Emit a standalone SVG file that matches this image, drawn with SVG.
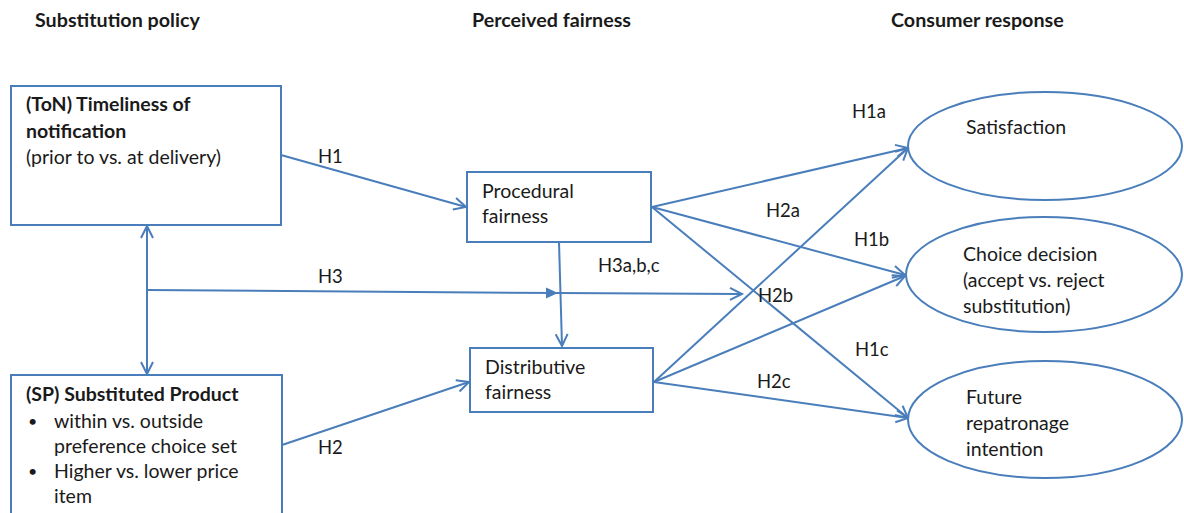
<svg xmlns="http://www.w3.org/2000/svg" width="1184" height="513" viewBox="0 0 1184 513">
<defs>
<style>
text{font-family:Lato,"Liberation Sans",sans-serif;font-size:19.5px;fill:#1a1a1a}
.b{font-weight:bold}
.h{font-weight:bold;font-size:19.7px}
.box{fill:#fff;stroke:#4a7ebb;stroke-width:2}
.ln{fill:none;stroke:#4a7ebb;stroke-width:2}
.lbl{font-size:18.5px}
.bul{font-size:16px}
</style>
<marker id="open" markerUnits="userSpaceOnUse" markerWidth="16" markerHeight="16" refX="13" refY="7" orient="auto">
<path d="M1,1 L13,7 L1,13" fill="none" stroke="#4a7ebb" stroke-width="2"/>
</marker>
<marker id="openS" markerUnits="userSpaceOnUse" markerWidth="16" markerHeight="16" refX="13" refY="7" orient="auto-start-reverse">
<path d="M1,1 L13,7 L1,13" fill="none" stroke="#4a7ebb" stroke-width="2"/>
</marker>
<marker id="fill" markerUnits="userSpaceOnUse" markerWidth="14" markerHeight="12" refX="12" refY="5.5" orient="auto">
<path d="M0,0 L12,5.5 L0,11 Z" fill="#4a7ebb"/>
</marker>
</defs>
<rect width="1184" height="513" fill="#fff"/>

<g id="headers">
<text class="h" x="35" y="27">Substitution policy</text>
<text class="h" x="472" y="27">Perceived fairness</text>
<text class="h" x="891" y="27">Consumer response</text>
</g>

<g id="connectors">
<line class="ln" x1="147" y1="226" x2="147" y2="374" marker-start="url(#openS)" marker-end="url(#open)"/>
<line class="ln" x1="147" y1="290" x2="558" y2="293" marker-end="url(#fill)"/>
<line class="ln" x1="558" y1="293" x2="742" y2="294" marker-end="url(#open)"/>
<line class="ln" x1="281" y1="155" x2="466" y2="207" marker-end="url(#open)"/>
<line class="ln" x1="282" y1="445" x2="469" y2="382" marker-end="url(#open)"/>
<line class="ln" x1="559" y1="242" x2="562" y2="346" marker-end="url(#open)"/>
<line class="ln" x1="652" y1="207" x2="908" y2="148" marker-end="url(#open)"/>
<line class="ln" x1="652" y1="207" x2="905" y2="275" marker-end="url(#open)"/>
<line class="ln" x1="652" y1="207" x2="908" y2="418" marker-end="url(#open)"/>
<line class="ln" x1="654" y1="382" x2="908" y2="148" marker-end="url(#open)"/>
<line class="ln" x1="654" y1="382" x2="905" y2="276" marker-end="url(#open)"/>
<line class="ln" x1="654" y1="382" x2="908" y2="418" marker-end="url(#open)"/>
<text class="lbl" x="318" y="163">H1</text>
<text class="lbl" x="318" y="283">H3</text>
<text class="lbl" x="318" y="454">H2</text>
<text class="lbl" x="598" y="272">H3a,b,c</text>
<text class="lbl" x="852" y="118">H1a</text>
<text class="lbl" x="766" y="217">H2a</text>
<text class="lbl" x="854" y="246">H1b</text>
<text class="lbl" x="758" y="302">H2b</text>
<text class="lbl" x="855" y="356">H1c</text>
<text class="lbl" x="757" y="388">H2c</text>
</g>

<g id="ton">
<rect class="box" x="11" y="86" width="270" height="139"/>
<text class="b" x="26" y="111">(ToN) Timeliness of</text>
<text class="b" x="26" y="138">notification</text>
<text x="26" y="164">(prior to vs. at delivery)</text>
</g>

<g id="sp">
<rect class="box" x="11" y="375" width="271" height="150"/>
<text class="b" x="26" y="401">(SP) Substituted Product</text>
<text class="bul" x="28" y="427">•</text>
<text x="54" y="428">within vs. outside</text>
<text x="54" y="453">preference choice set</text>
<text class="bul" x="28" y="477">•</text>
<text x="54" y="478">Higher vs. lower price</text>
<text x="54" y="503">item</text>
</g>

<g id="procedural">
<rect class="box" x="467" y="172" width="184" height="70"/>
<text x="482" y="198">Procedural</text>
<text x="482" y="223">fairness</text>
</g>

<g id="distributive">
<rect class="box" x="470" y="348" width="183" height="64"/>
<text x="485" y="374">Distributive</text>
<text x="485" y="399">fairness</text>
</g>

<g id="satisfaction">
<ellipse class="box" cx="1045" cy="146" rx="137" ry="54"/>
<text x="966" y="134">Satisfaction</text>
</g>

<g id="choice">
<ellipse class="box" cx="1044" cy="274.5" rx="138" ry="57.5"/>
<text x="963" y="261">Choice decision</text>
<text x="963" y="287">(accept vs. reject</text>
<text x="963" y="313">substitution)</text>
</g>

<g id="future">
<ellipse class="box" cx="1045" cy="419.5" rx="137" ry="58.5"/>
<text x="966" y="404">Future</text>
<text x="966" y="430">repatronage</text>
<text x="966" y="456">intention</text>
</g>
</svg>
